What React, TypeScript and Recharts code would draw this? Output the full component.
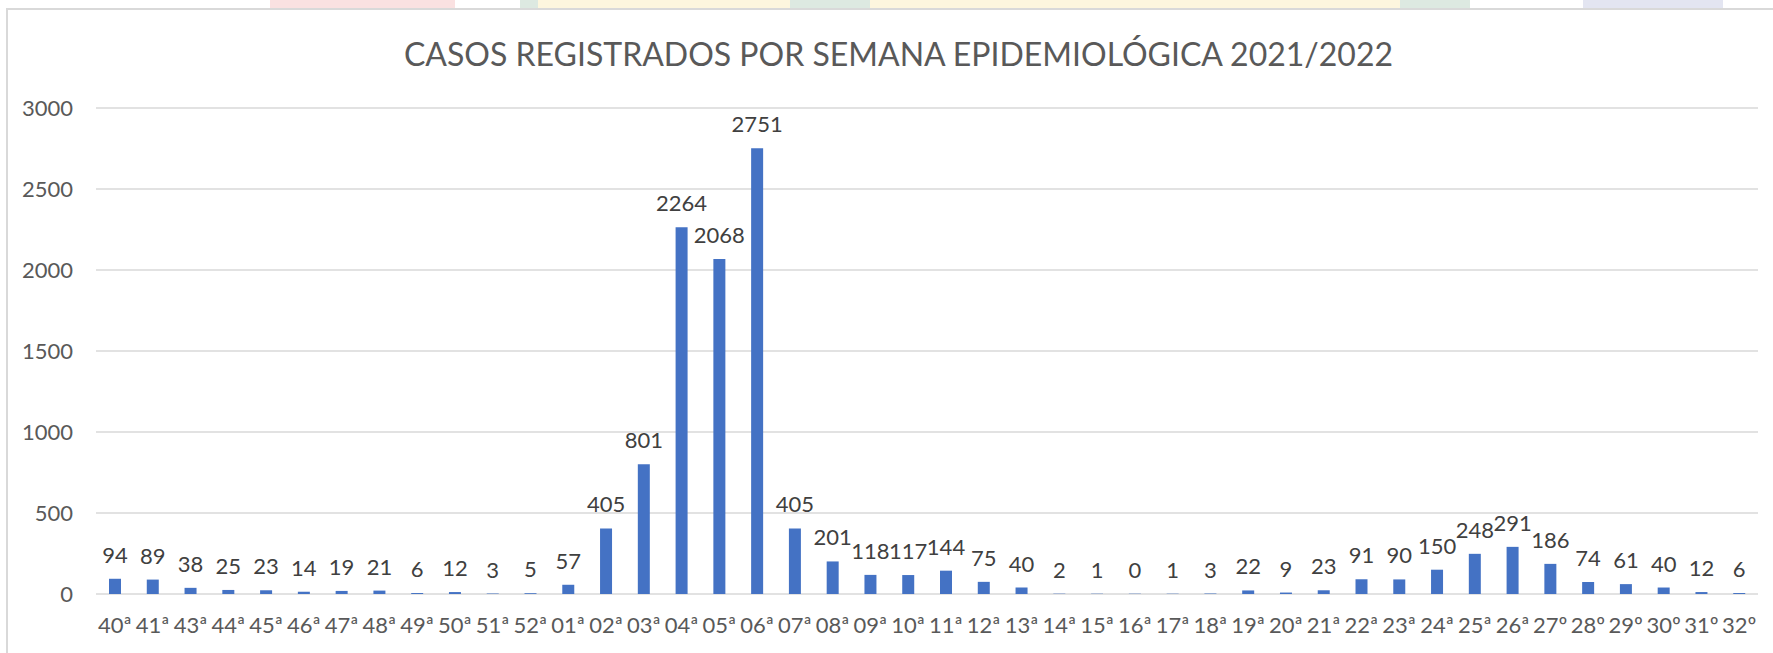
import React from 'react'
import { BarChart, Bar, XAxis, YAxis, CartesianGrid, LabelList } from 'recharts'

const weeks = [
  '40ª', '41ª', '43ª', '44ª', '45ª', '46ª', '47ª', '48ª', '49ª', '50ª', '51ª', '52ª',
  '01ª', '02ª', '03ª', '04ª', '05ª', '06ª', '07ª', '08ª', '09ª', '10ª', '11ª', '12ª',
  '13ª', '14ª', '15ª', '16ª', '17ª', '18ª', '19ª', '20ª', '21ª', '22ª', '23ª', '24ª',
  '25ª', '26ª', '27º', '28º', '29º', '30º', '31º', '32º',
]

const cases = [
  94, 89, 38, 25, 23, 14, 19, 21, 6, 12, 3, 5,
  57, 405, 801, 2264, 2068, 2751, 405, 201, 118, 117, 144, 75,
  40, 2, 1, 0, 1, 3, 22, 9, 23, 91, 90, 150,
  248, 291, 186, 74, 61, 40, 12, 6,
]

const yTicks = [0, 500, 1000, 1500, 2000, 2500, 3000]

const TITLE = 'CASOS REGISTRADOS POR SEMANA EPIDEMIOLÓGICA 2021/2022'

// label kept as a string so the zero week still gets its "0"
const data = weeks.map((week, i) => ({ week, cases: cases[i], label: String(cases[i]) }))

const FONT = 'Lato, "Open Sans", sans-serif'

// faint flag-like strip peeking above the chart frame
const strips = [
  { left: 270, width: 185, color: '#fae1e1' },
  { left: 520, width: 880, color: '#fdf6de' },
  { left: 520, width: 18, color: '#dde9e1' },
  { left: 790, width: 80, color: '#dde9e1' },
  { left: 1400, width: 70, color: '#dde9e1' },
  { left: 1583, width: 140, color: '#e3e5f1' },
]

export default function App() {
  return (
    <div style={{ position: 'absolute', left: 0, top: 0, width: 1773, height: 653, background: '#fff', overflow: 'hidden', fontFamily: FONT }}>
      {strips.map((s, i) => (
        <div key={i} style={{ position: 'absolute', top: 0, left: s.left, width: s.width, height: 10, background: s.color }} />
      ))}
      {/* chart frame */}
      <div style={{ position: 'absolute', left: 6, top: 8, right: -4, bottom: -4, border: '2px solid #d9d9d9', background: '#fff' }} />

      <div style={{ position: 'absolute', left: 0, right: 0, top: 34, textAlign: 'center', paddingLeft: 24, fontSize: 32, color: '#595959' }}>
        {TITLE}
      </div>

      <div style={{ position: 'absolute', left: 0, top: 0 }}>
        <BarChart width={1773} height={653} data={data} margin={{ top: 108, right: 15, bottom: 29, left: 0 }}>
          <CartesianGrid vertical={false} stroke="#d9d9d9" strokeWidth={1.5} />
          <XAxis
            dataKey="week"
            interval={0}
            height={30}
            axisLine={false}
            tickLine={false}
            tickSize={0}
            tickMargin={23}
            tick={{ fill: '#595959', fontSize: 22, fontFamily: FONT }}
          />
          <YAxis
            domain={[0, 3000]}
            ticks={yTicks}
            width={96}
            axisLine={false}
            tickLine={false}
            tickSize={0}
            tickMargin={23}
            tick={{ fill: '#595959', fontSize: 22, fontFamily: FONT }}
          />
          <Bar dataKey="cases" fill="#4472c4" barSize={12} minPointSize={0.3} isAnimationActive={false}>
            <LabelList dataKey="label" position="top" offset={16} fill="#404040" fontSize={22} fontFamily={FONT} />
          </Bar>
        </BarChart>
      </div>
    </div>
  )
}
